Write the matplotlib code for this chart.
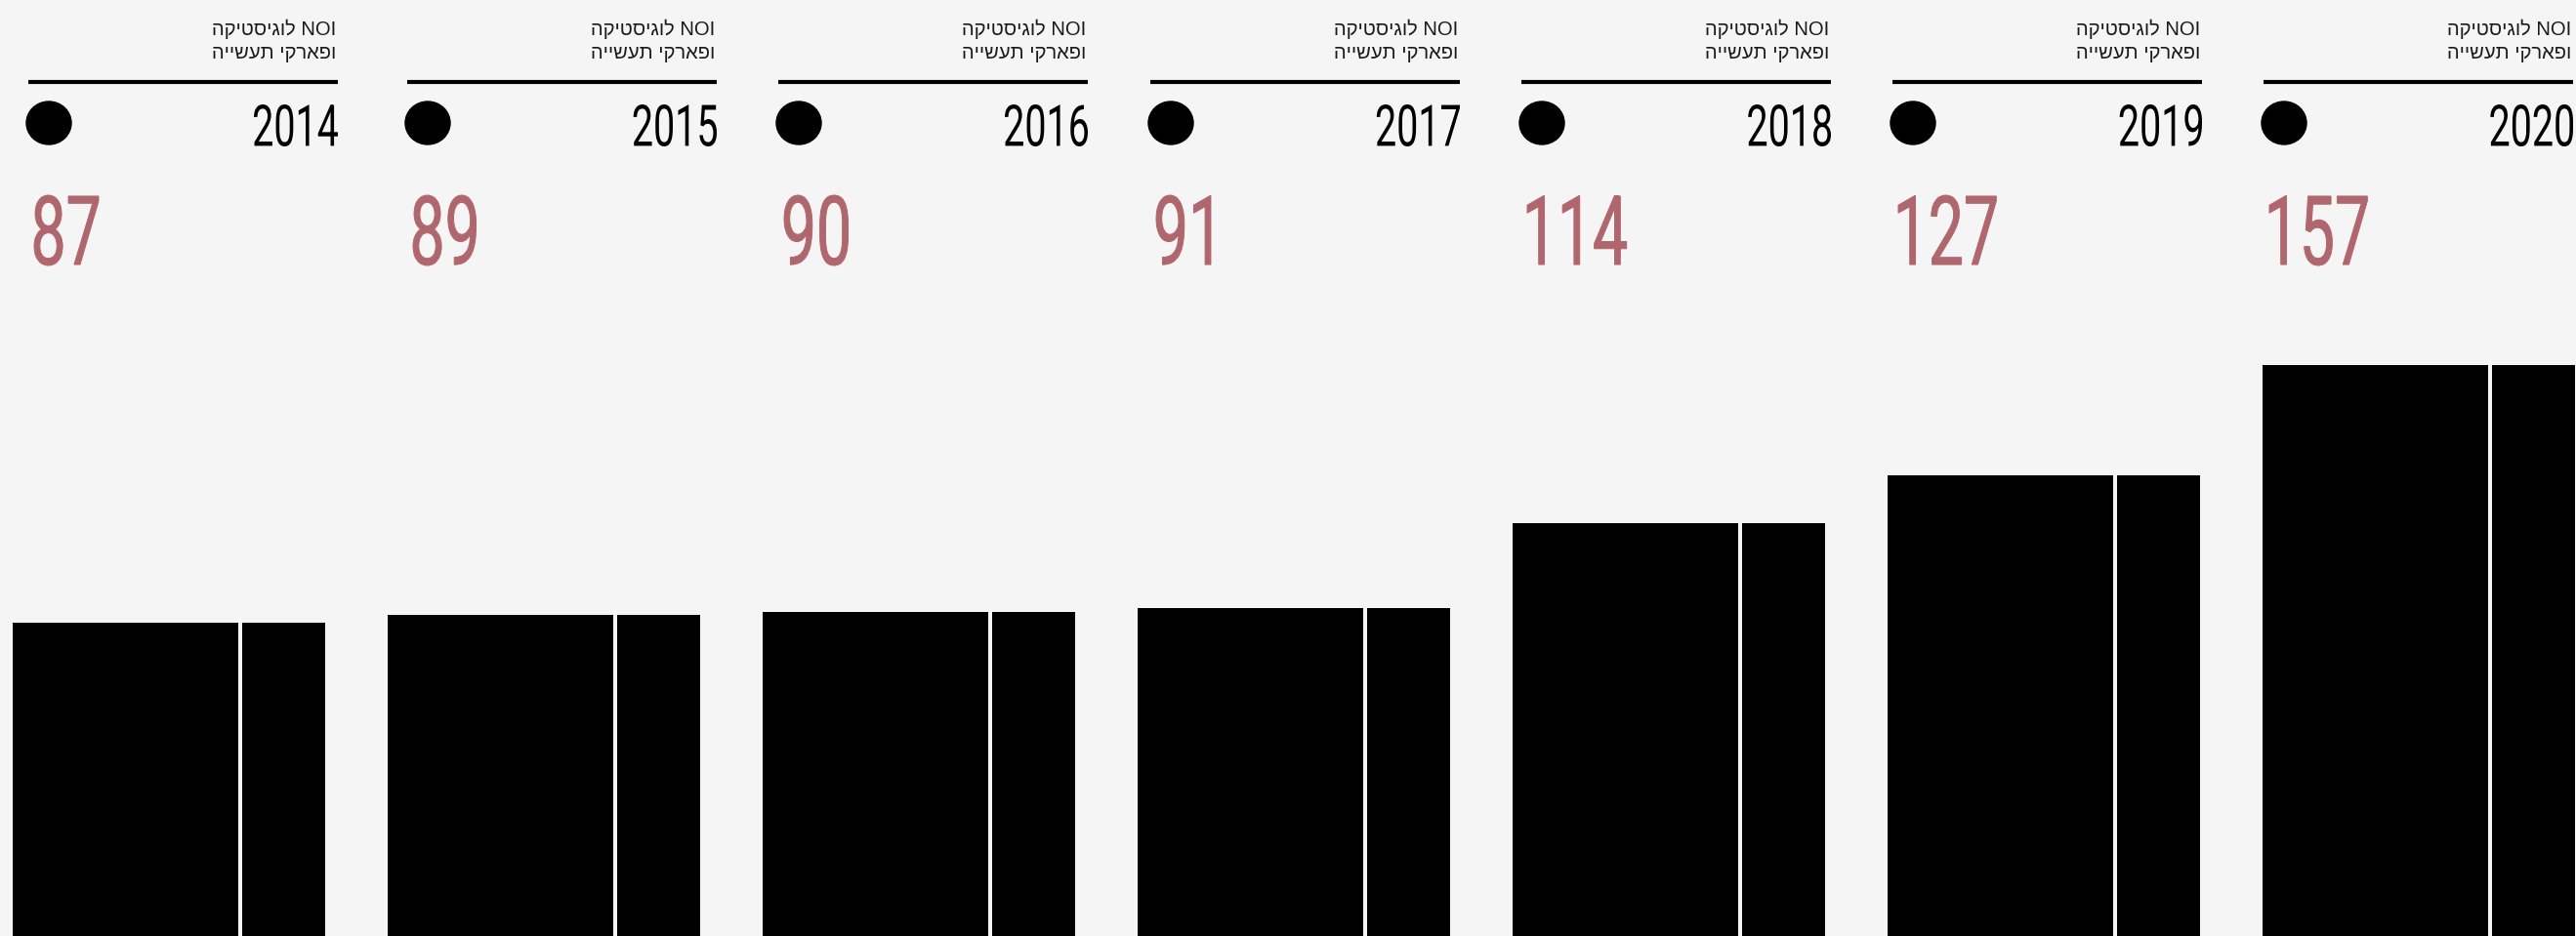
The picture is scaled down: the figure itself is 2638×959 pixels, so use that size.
import matplotlib
matplotlib.use("Agg")
import matplotlib.pyplot as plt
from matplotlib.font_manager import FontProperties
from matplotlib.patches import Ellipse, PathPatch
from matplotlib.textpath import TextPath
from matplotlib.transforms import Affine2D

years = ["2014", "2015", "2016", "2017", "2018", "2019", "2020"]
values = [87, 89, 90, 91, 114, 127, 157]
label_lines = ["NOI לוגיסטיקה", "ופארקי תעשייה"]

BG = "#f5f5f5"
PINK = "#b0666d"
W, H = 2638, 959

# header blocks (line left edges, px) and bar layout
header_left = [29, 417, 797, 1178, 1558, 1938, 2318]
header_w = 317
bar_step = 384
px_per_unit = 3.771
base_px = 966  # zero line sits just under the bottom edge

digit_font = FontProperties(family="Roboto", weight="normal")
ref_ext = TextPath((0, 0), "0123456789", size=100, prop=digit_font).get_extents()


def visual(line):
    # matplotlib has no bidi, so flip word order and hebrew letters by hand
    out = []
    for w in reversed(line.split(" ")):
        if any("\u0590" <= ch <= "\u05ff" for ch in w):
            w = w[::-1]
        out.append(w)
    return " ".join(out)


def digit_squeeze(s, height, width):
    ext = TextPath((0, 0), s, size=100, prop=digit_font).get_extents()
    k = height / ref_ext.height
    return width / (ext.width * k)


def draw_digits(ax, s, x, y_bottom, height, squeeze, color, lw, anchor="left"):
    # condensed digits: squeeze the glyph outlines sideways
    tp = TextPath((0, 0), s, size=100, prop=digit_font)
    ext = tp.get_extents()
    k = height / ref_ext.height
    sx = k * squeeze
    tx = x - (ext.x0 if anchor == "left" else ext.x1) * sx
    tr = Affine2D().translate(0, -ref_ext.y0).scale(sx, -k).translate(tx, y_bottom)
    ax.add_patch(PathPatch(tr.transform_path(tp), fc=color, ec=color, lw=lw))


fig = plt.figure(figsize=(W / 100, H / 100), dpi=100, facecolor=BG)

# bars in value units
bar_ax = fig.add_axes([0, 0, 1, 1])
bar_ax.set_xlim(0, W)
bar_ax.set_ylim((base_px - H) / px_per_unit, base_px / px_per_unit)
bar_ax.axis("off")
xs = [i * bar_step for i in range(len(values))]
bar_ax.bar([x + 13 for x in xs], values, width=231, align="edge", color="black")
bar_ax.bar([x + 248 for x in xs], values, width=85, align="edge", color="black")

# header overlay in pixels
ax = fig.add_axes([0, 0, 1, 1])
ax.set_xlim(0, W)
ax.set_ylim(H, 0)
ax.axis("off")

year_sq = digit_squeeze(years[0], 43, 86)
val_sq = digit_squeeze(str(values[0]), 72, 66)

for i, (yr, v) in enumerate(zip(years, values)):
    L = header_left[i]
    R = L + header_w
    ax.text(R - 2, 36, visual(label_lines[0]), ha="right", va="baseline",
            fontsize=14.5, family=["Liberation Sans", "DejaVu Sans"], color="#1a1a1a")
    ax.text(R - 2, 60, visual(label_lines[1]), ha="right", va="baseline",
            fontsize=14.5, family=["Liberation Sans", "DejaVu Sans"], color="#1a1a1a")
    ax.plot([L, R], [84, 84], color="black", lw=3, solid_capstyle="butt")
    ax.add_patch(Ellipse((L + 21, 126), 46, 44, color="black"))
    draw_digits(ax, yr, R, 150, 43, year_sq, "black", 0, anchor="right")
    draw_digits(ax, str(v), L + 6, 272, 72, val_sq, PINK, 0.7)

fig.savefig("out.png", dpi=100, facecolor=BG)
